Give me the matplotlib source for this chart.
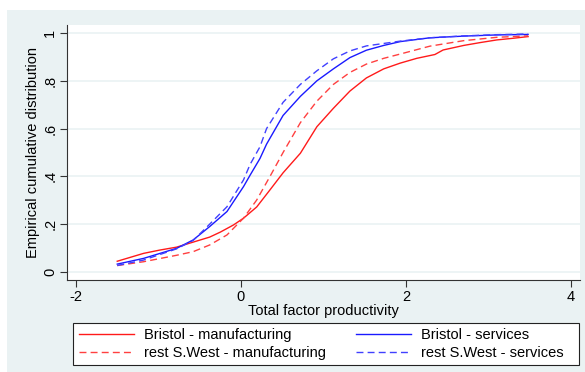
import matplotlib
matplotlib.use("Agg")
import matplotlib.pyplot as plt
from matplotlib.patches import Rectangle

plt.rcParams["font.family"] = ["Liberation Sans", "DejaVu Sans"]

# empirical CDFs of TFP, read at a set of productivity values
bristol_manuf_x = [-1.5, -1.18, -0.98, -0.78, -0.58, -0.38, -0.25, -0.09, 0.03, 0.19,
                   0.35, 0.51, 0.72, 0.92, 1.12, 1.32, 1.52, 1.73, 1.93, 2.13,
                   2.35, 2.45, 2.70, 2.90, 3.10, 3.30, 3.48]
bristol_manuf_y = [0.045, 0.078, 0.092, 0.104, 0.125, 0.146, 0.167, 0.197, 0.225, 0.272,
                   0.343, 0.415, 0.497, 0.608, 0.685, 0.757, 0.812, 0.850, 0.874, 0.894,
                   0.910, 0.929, 0.948, 0.960, 0.971, 0.978, 0.985]

restsw_manuf_x = [-1.5, -1.18, -0.78, -0.58, -0.38, -0.17, 0.03, 0.19, 0.35, 0.51,
                  0.72, 0.92, 1.12, 1.32, 1.52, 1.73, 1.93, 2.29, 2.70, 3.10, 3.48]
restsw_manuf_y = [0.027, 0.043, 0.070, 0.085, 0.113, 0.155, 0.225, 0.301, 0.399, 0.500,
                  0.625, 0.715, 0.785, 0.835, 0.870, 0.894, 0.912, 0.945, 0.968, 0.982, 0.988]

bristol_serv_x = [-1.5, -1.18, -0.78, -0.58, -0.38, -0.17, 0.03, 0.11, 0.23, 0.31,
                  0.51, 0.72, 0.92, 1.12, 1.32, 1.52, 1.73, 1.93, 2.29, 2.70, 3.10, 3.48]
bristol_serv_y = [0.033, 0.057, 0.099, 0.134, 0.190, 0.253, 0.357, 0.405, 0.475, 0.535,
                  0.655, 0.735, 0.800, 0.850, 0.897, 0.928, 0.948, 0.964, 0.980, 0.987, 0.992, 0.994]

restsw_serv_x = [-1.5, -1.18, -0.78, -0.58, -0.38, -0.17, 0.03, 0.11, 0.23, 0.31,
                 0.51, 0.72, 0.92, 1.12, 1.32, 1.52, 1.93, 2.29, 2.70, 3.10, 3.48]
restsw_serv_y = [0.027, 0.050, 0.097, 0.132, 0.200, 0.273, 0.385, 0.450, 0.524, 0.600,
                 0.710, 0.785, 0.842, 0.892, 0.925, 0.946, 0.966, 0.980, 0.988, 0.993, 0.996]

x_ticks = [-2, 0, 2, 4]
y_ticks = [0, 0.2, 0.4, 0.6, 0.8, 1.0]
y_tick_labels = ["0", ".2", ".4", ".6", ".8", "1"]

BG = "#eaf2f3"
FS = 10.5
W, H = 585, 372

fig = plt.figure(figsize=(W / 100, H / 100), dpi=100)
fig.patch.set_facecolor("white")
fig.patches.append(Rectangle((7 / W, 0), 1 - 7 / W, 362 / H,
                             transform=fig.transFigure, facecolor=BG,
                             edgecolor="none", zorder=-10))

ax = fig.add_axes([67 / W, 1 - 280 / H, 513 / W, 255 / H])
ax.set_facecolor("white")

l1, = ax.plot(bristol_manuf_x, bristol_manuf_y, color="#ff1a1a", lw=1.0)
l2, = ax.plot(restsw_manuf_x, restsw_manuf_y, color="#ff4040", lw=1.0,
              ls=(0, (5, 3)))
l3, = ax.plot(bristol_serv_x, bristol_serv_y, color="#1a1aff", lw=1.0)
l4, = ax.plot(restsw_serv_x, restsw_serv_y, color="#4040ff", lw=1.0,
              ls=(0, (5, 3)))

ax.set_xlim(-2.109, 4.109)
ax.set_ylim(-0.0335, 1.0335)
ax.set_xticks(x_ticks)
ax.set_xticklabels([str(t) for t in x_ticks])
ax.set_yticks(y_ticks)
ax.set_yticklabels(y_tick_labels, rotation=90, va="center")
ax.yaxis.grid(True, color=BG, lw=1.2)
ax.set_axisbelow(True)

for side in ("top", "right"):
    ax.spines[side].set_visible(False)
for side in ("left", "bottom"):
    ax.spines[side].set_color("#333333")
    ax.spines[side].set_linewidth(0.8)
ax.tick_params(direction="out", length=5, width=0.8, color="#333333",
               labelsize=FS, pad=2)

ax.set_xlabel("Total factor productivity", fontsize=FS, labelpad=0)
ax.set_ylabel("Empirical cumulative distribution", fontsize=FS, labelpad=2)

# legend box drawn separately so the right margin can be wider than the left
fig.patches.append(Rectangle((73 / W, 1 - 365 / H), 506 / W, 42 / H,
                             transform=fig.transFigure, facecolor="white",
                             edgecolor="#222222", lw=0.8, zorder=1))
fig.legend([l1, l2, l3, l4],
           ["Bristol - manufacturing", "rest S.West - manufacturing",
            "Bristol - services", "rest S.West - services"],
           ncol=2, mode="expand", loc="center left",
           bbox_to_anchor=(73 / W, 1 - 365 / H, 496 / W, 42 / H),
           borderaxespad=0, fontsize=FS, frameon=False,
           handlelength=3.77, handletextpad=0.69,
           borderpad=0.38, labelspacing=0.25, columnspacing=2.0)

fig.savefig("out.png", dpi=100, facecolor=fig.get_facecolor())
